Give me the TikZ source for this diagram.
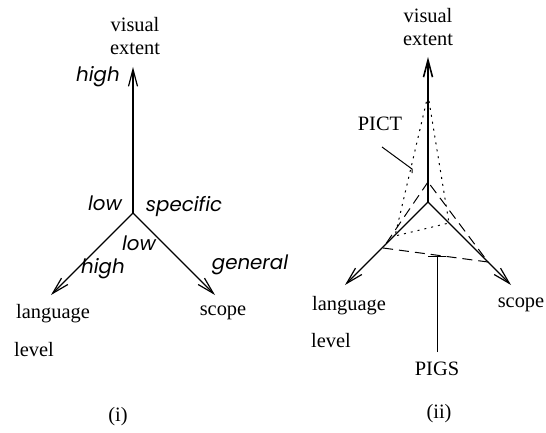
\documentclass[tikz,border=0pt]{standalone}
\usepackage{fontspec}
\setmainfont{Liberation Serif}
\newfontfamily\labelfont[ItalicFont={* Italic}]{Poppins}
\usetikzlibrary{arrows.meta}
\begin{document}
\begin{tikzpicture}[x=0.5pt,y=-0.5pt,
  axis/.style={line width=0.6pt,-{Straight Barb[length=8.5pt,width=4.5pt]}},
  plain/.style={line width=0.5pt},
  pigs/.style={line width=0.5pt,dash pattern=on 5pt off 3pt},
  pict/.style={line width=0.5pt,dash pattern=on 1pt off 2.5pt},
  rm/.style={font=\fontsize{10.2pt}{12pt}\selectfont,inner sep=0pt},
  it/.style={font=\fontsize{9.9pt}{12pt}\selectfont\labelfont\itshape,inner sep=0pt}]
\useasboundingbox (0,0) rectangle (546,433);

% ---- (i): the three axes with their end labels
\coordinate (o1) at (133,213);
\coordinate (t1) at (133,67);
\coordinate (l1) at (51,295);
\coordinate (r1) at (215,295);
\draw[axis] (o1) -- (t1);
\draw[axis] (o1) -- (l1);
\draw[axis] (o1) -- (r1);

\node[rm] (vis1) at (135,25) {visual};
\node[rm] (ext1) at (135,49) {extent};
\node[rm] (lang1) at (53,314) {language};
\node[rm] (lev1) at (34,350) {level};
\node[rm] (sc1) at (223,313) {scope};
\node[rm] (cap1) at (118,417) {(i)};

\node[it] (hiv) at (98,77) {high};
\node[it] (lov) at (105,203) {low};
\node[it] (spec) at (184,207) {specific};
\node[it] (lol) at (139,243) {low};
\node[it] (hil) at (103,269) {high};
\node[it] (gen) at (250,265) {general};

% ---- (ii): the same axes with the PICT and PIGS regions
\coordinate (o2) at (428,202);
\coordinate (t2) at (428,57);
\coordinate (l2) at (345,285);
\coordinate (r2) at (511,285);
\draw[axis,line width=0.8pt] (o2) -- (t2);
\draw[axis] (o2) -- (l2);
\draw[axis] (o2) -- (r2);

\node[rm] (vis2) at (428,16) {visual};
\node[rm] (ext2) at (428,40) {extent};
\node[rm] (lang2) at (349,306) {language};
\node[rm] (lev2) at (331,341) {level};
\node[rm] (sc2) at (521,305) {scope};
\node[rm] (cap2) at (439,414) {(ii)};
\node[rm] (pict) at (380,124) {PICT};
\node[rm] (pigs) at (437,369) {PIGS};

% PICT region (dotted)
\coordinate (pt) at (428,95);
\coordinate (pl) at (395,236);
\coordinate (pr) at (449,223);
\draw[pict] (pt) -- (pl) -- (pr) -- cycle;

% PIGS region (dashed)
\coordinate (gt) at (428,182);
\coordinate (gl) at (383,248);
\coordinate (gr) at (488,262);
\draw[pigs] (gt) -- (gl) -- (gr) -- cycle;

% pointers from the names to the regions
\coordinate (pictA) at (382,147);
\coordinate (pictB) at (412,169);
\draw[plain] (pictA) -- (pictB) -- ++(0,4);
\coordinate (pigsA) at (437,352);
\coordinate (pigsB) at (437,256);
\draw[plain] (pigsA) -- (pigsB);
\draw[plain] ([xshift=-4.5]pigsB) -- ([xshift=4.5]pigsB);
\end{tikzpicture}
\end{document}
